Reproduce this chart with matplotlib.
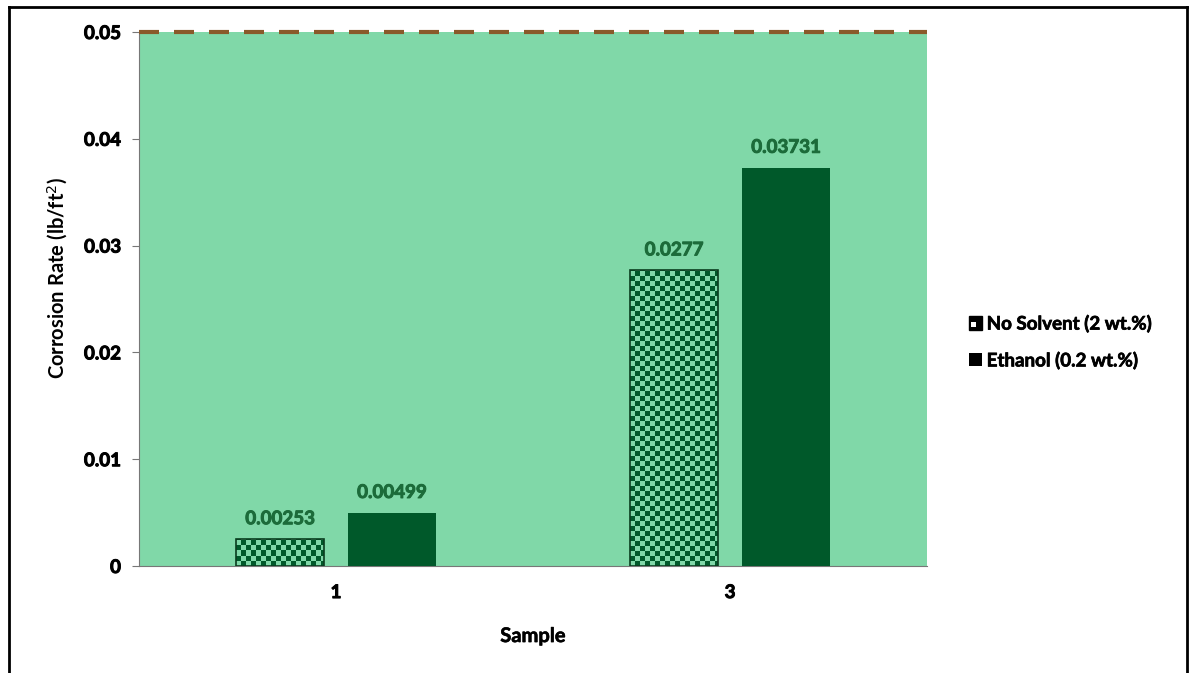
import numpy as np
import matplotlib
matplotlib.use("Agg")
import matplotlib.pyplot as plt
import matplotlib.patheffects as pe
from matplotlib.patches import Rectangle, Patch
from matplotlib.legend_handler import HandlerBase
from matplotlib.lines import Line2D

plt.rcParams["font.family"] = ["Lato", "DejaVu Sans"]

samples = ["1", "3"]
no_solvent = [0.00253, 0.0277]
ethanol = [0.00499, 0.03731]
labels = ["No Solvent (2 wt.%)", "Ethanol (0.2 wt.%)"]
limit = 0.05

bg_green = "#80d8a8"
dark_green = "#00592a"
text_green = "#1c6b3a"
limit_brown = "#8a5a2a"


def thick(color, lw=0.7):
    # slightly heavier strokes for the bold labels
    return [pe.withStroke(linewidth=lw, foreground=color)]


fig = plt.figure(figsize=(11.9, 6.73), dpi=100)
ax = fig.add_axes([139 / 1190, 1 - 566 / 673, 788 / 1190, 534 / 673])

x = np.arange(len(samples))
width = 0.223
offset = 0.142

ax.set_xlim(-0.5, len(samples) - 0.5)
ax.set_ylim(0, limit)
ax.set_facecolor(bg_green)

# size of one checker square in data units (about 5 px)
cell_w = 5 / 394
cell_h = limit * 5 / 534


def checker_bar(xc, h):
    left = xc - width / 2
    rect = Rectangle((left, 0), width, h, facecolor=bg_green,
                     edgecolor="none", zorder=2)
    ax.add_patch(rect)
    nx = int(np.ceil(width / cell_w))
    ny = int(np.ceil(h / cell_h))
    board = (np.add.outer(np.arange(ny), np.arange(nx)) % 2).astype(float)
    cmap = matplotlib.colors.ListedColormap([bg_green, dark_green])
    im = ax.imshow(board, cmap=cmap, origin="lower", aspect="auto",
                   interpolation="nearest",
                   extent=(left, left + nx * cell_w, 0, ny * cell_h), zorder=3)
    im.set_clip_path(rect)
    edge = Rectangle((left, 0), width, h, facecolor="none",
                     edgecolor="#0a3d1e", linewidth=1.2, zorder=4)
    ax.add_patch(edge)


for xi, v in zip(x, no_solvent):
    checker_bar(xi - offset, v)
ax.bar(x + offset, ethanol, width, color=dark_green, zorder=3)

ax.set_xlim(-0.5, len(samples) - 0.5)
ax.set_ylim(0, limit)

for xi, v in zip(x, no_solvent):
    ax.text(xi - offset, v + 0.0011, f"{v:g}", ha="center", va="bottom",
            color=text_green, fontsize=13.5, fontweight="bold", zorder=5,
            path_effects=thick(text_green))
for xi, v in zip(x, ethanol):
    ax.text(xi + offset, v + 0.0011, f"{v:g}", ha="center", va="bottom",
            color=text_green, fontsize=13.5, fontweight="bold", zorder=5,
            path_effects=thick(text_green))

ax.axhline(limit, color=limit_brown, linestyle=(0, (4.8, 3.6)), linewidth=3,
           zorder=6, clip_on=False)

ax.set_xticks(x)
ax.set_xticklabels(samples, fontsize=13.5, fontweight="bold")
ax.set_yticks(np.arange(0, 0.051, 0.01))
ax.set_yticklabels(["0", "0.01", "0.02", "0.03", "0.04", "0.05"],
                   fontsize=13.5, fontweight="bold")
for t in ax.get_xticklabels() + ax.get_yticklabels():
    t.set_path_effects(thick("black"))
ax.tick_params(axis="x", length=0, pad=13)
ax.tick_params(axis="y", length=5, color="#777777", pad=8)
for side in ["top", "right"]:
    ax.spines[side].set_visible(False)
ax.spines["left"].set_color("#777777")
ax.spines["bottom"].set_color("#777777")

ax.set_xlabel("Sample", fontsize=14.5, fontweight="bold", labelpad=18,
              path_effects=thick("black", 0.4))
ax.set_ylabel("Corrosion Rate (lb/ft$^2$)", fontsize=14.5, fontweight="bold")
ax.yaxis.set_label_coords(-0.088, 0.54)


class CheckerHandler(HandlerBase):
    def create_artists(self, legend, orig_handle, xdescent, ydescent,
                       width, height, fontsize, trans):
        s = min(width, height)
        x0 = -xdescent + (width - s) / 2
        y0 = -ydescent + (height - s) / 2
        outer = Rectangle((x0, y0), s, s, facecolor="black",
                          edgecolor="black", transform=trans)
        inner = Rectangle((x0 + s * 0.18, y0 + s * 0.18), s * 0.38, s * 0.38,
                          facecolor="white", edgecolor="none", transform=trans)
        return [outer, inner]


h_checker = Patch(facecolor="black")
h_solid = Patch(facecolor="black")
leg = fig.legend([h_checker, h_solid], labels,
                 handler_map={h_checker: CheckerHandler()},
                 loc="center left", bbox_to_anchor=(952 / 1190, 1 - 342 / 673),
                 frameon=False, prop={"size": 13.5, "weight": "bold"},
                 handlelength=0.7, handleheight=0.7,
                 handletextpad=0.25, labelspacing=1.0)
for t in leg.get_texts():
    t.set_path_effects(thick("black", 0.5))

# outer frame around the whole chart
frame_kw = dict(color="black", linewidth=2, transform=fig.transFigure)
fig.add_artist(Line2D([9 / 1190, 9 / 1190], [0, 1 - 7 / 673], **frame_kw))
fig.add_artist(Line2D([9 / 1190, 1187 / 1190], [1 - 7 / 673, 1 - 7 / 673], **frame_kw))
fig.add_artist(Line2D([1187 / 1190, 1187 / 1190], [0, 1 - 7 / 673], **frame_kw))

fig.savefig("out.png", dpi=100)
